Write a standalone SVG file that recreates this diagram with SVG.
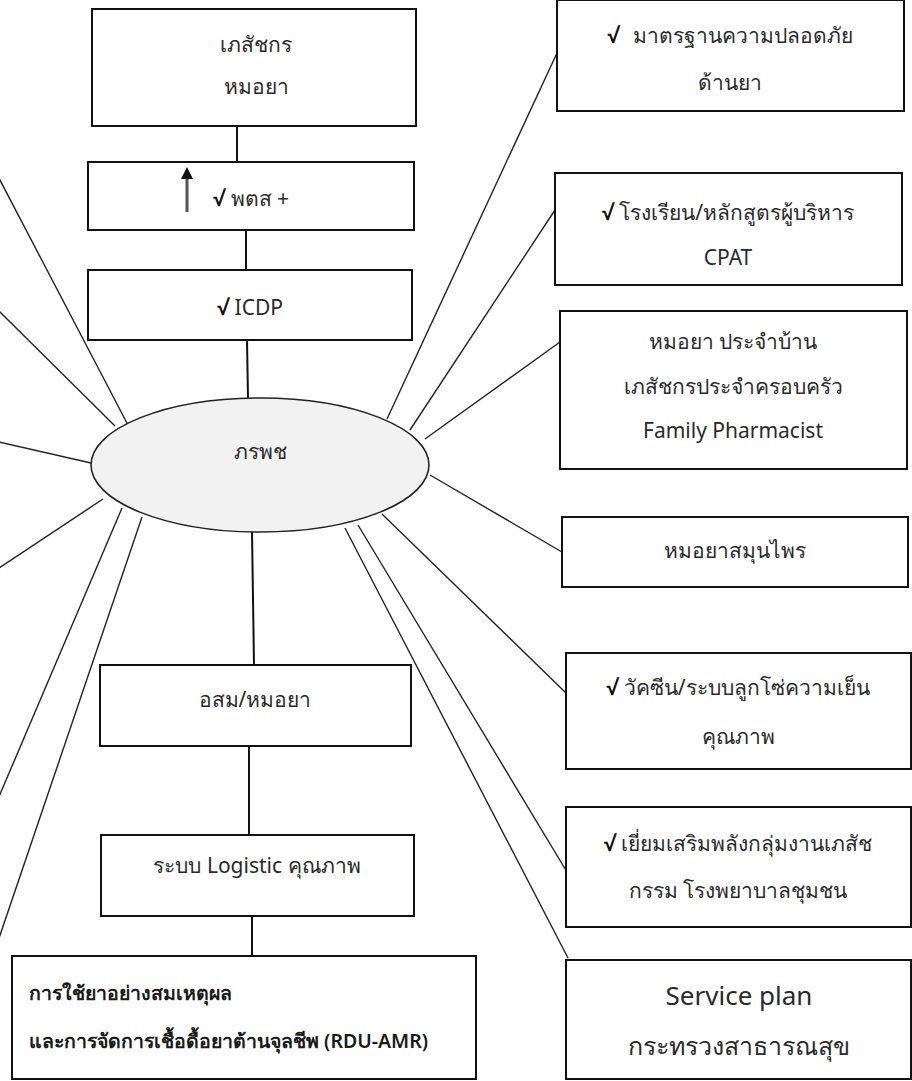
<svg xmlns="http://www.w3.org/2000/svg" width="912" height="1081" viewBox="0 0 912 1081">
<style>
.box{fill:#fff;stroke:#111;stroke-width:2}
.ln{stroke:#222;stroke-width:1.4;fill:none}
.vl{stroke:#111;stroke-width:2;fill:none}
.t{font-family:"Noto Sans","Open Sans",sans-serif;font-size:21px;fill:#2a2a2a;text-anchor:middle;dominant-baseline:central}
.ck{font-weight:bold;fill:#111}
.rdu{font-family:"Noto Sans","Open Sans",sans-serif;font-size:19.5px;font-weight:600;fill:#1a1a1a;dominant-baseline:central}
</style>
<rect width="912" height="1081" fill="#fff"/>
<g id="connectors">
<line class="vl" x1="237" y1="126" x2="237" y2="162"/>
<line class="vl" x1="246" y1="230" x2="246" y2="270"/>
<line class="vl" x1="247" y1="340" x2="248" y2="398"/>
<line class="vl" x1="252" y1="532" x2="254" y2="665"/>
<line class="vl" x1="249" y1="746" x2="249" y2="835"/>
<line class="vl" x1="252" y1="916" x2="252" y2="956"/>
<line class="ln" x1="-10" y1="161" x2="128" y2="425"/>
<line class="ln" x1="-10" y1="302" x2="115" y2="426"/>
<line class="ln" x1="-10" y1="440" x2="91" y2="463"/>
<line class="ln" x1="-10" y1="574" x2="103" y2="499"/>
<line class="ln" x1="122" y1="508" x2="-5" y2="806"/>
<line class="ln" x1="142" y1="517" x2="-5" y2="950"/>
<line class="ln" x1="387" y1="419" x2="557" y2="53"/>
<line class="ln" x1="410" y1="430" x2="555" y2="210"/>
<line class="ln" x1="425" y1="439" x2="560" y2="342"/>
<line class="ln" x1="430" y1="475" x2="562" y2="552"/>
<line class="ln" x1="382" y1="514" x2="566" y2="693"/>
<line class="ln" x1="358" y1="525" x2="567" y2="872"/>
<line class="ln" x1="345" y1="528" x2="568" y2="958"/>
</g>
<g id="n-pharmacist">
<rect class="box" x="92" y="9" width="324" height="117"/>
<text class="t" x="256" y="44">เภสัชกร</text>
<text class="t" x="256" y="86">หมอยา</text>
</g>
<g id="n-ptsx">
<rect class="box" x="88" y="162" width="326" height="68"/>
<line x1="187" y1="212" x2="187" y2="176" stroke="#555" stroke-width="3"/>
<polygon points="187,167 181,179 193,179" fill="#111"/>
<text class="t" x="251" y="198"><tspan class="ck">√</tspan><tspan dx="6">พตส +</tspan></text>
</g>
<g id="n-icdp">
<rect class="box" x="88" y="270" width="324" height="70"/>
<text class="t" x="250" y="307"><tspan class="ck">√</tspan><tspan dx="6">ICDP</tspan></text>
</g>
<g id="n-center">
<ellipse cx="260" cy="465" rx="169" ry="67" fill="#f2f2f2" stroke="#222" stroke-width="1.6"/>
<text class="t" x="260" y="451">ภรพช</text>
</g>
<g id="n-osm">
<rect class="box" x="100" y="665" width="311" height="81"/>
<text class="t" x="255" y="699">อสม/หมอยา</text>
</g>
<g id="n-logistic">
<rect class="box" x="101" y="835" width="313" height="81"/>
<text class="t" x="257" y="865">ระบบ Logistic คุณภาพ</text>
</g>
<g id="n-rdu">
<rect class="box" x="12" y="956" width="464" height="123"/>
<text class="rdu" x="29" y="992">การใช้ยาอย่างสมเหตุผล</text>
<text class="rdu" x="29" y="1040">และการจัดการเชื้อดื้อยาต้านจุลชีพ (RDU-AMR)</text>
</g>
<g id="n-r1">
<rect class="box" x="557" y="0" width="347" height="111"/>
<text class="t" x="730" y="35"><tspan class="ck">√</tspan><tspan dx="14">มาตรฐานความปลอดภัย</tspan></text>
<text class="t" x="730" y="82">ด้านยา</text>
</g>
<g id="n-r2">
<rect class="box" x="555" y="173" width="347" height="112"/>
<text class="t" x="728" y="212"><tspan class="ck">√</tspan><tspan dx="6">โรงเรียน/หลักสูตรผู้บริหาร</tspan></text>
<text class="t" x="728" y="257">CPAT</text>
</g>
<g id="n-r3">
<rect class="box" x="560" y="311" width="347" height="158"/>
<text class="t" x="733" y="341">หมอยา ประจำบ้าน</text>
<text class="t" x="733" y="386">เภสัชกรประจำครอบครัว</text>
<text class="t" x="733" y="430">Family Pharmacist</text>
</g>
<g id="n-r4">
<rect class="box" x="562" y="517" width="346" height="70"/>
<text class="t" x="735" y="550">หมอยาสมุนไพร</text>
</g>
<g id="n-r5">
<rect class="box" x="566" y="653" width="345" height="116"/>
<text class="t" x="738" y="687"><tspan class="ck">√</tspan><tspan dx="6">วัคซีน/ระบบลูกโซ่ความเย็น</tspan></text>
<text class="t" x="738" y="736">คุณภาพ</text>
</g>
<g id="n-r6">
<rect class="box" x="566" y="807" width="345" height="120"/>
<text class="t" x="738" y="843"><tspan class="ck">√</tspan><tspan dx="6">เยี่ยมเสริมพลังกลุ่มงานเภสัช</tspan></text>
<text class="t" x="738" y="890">กรรม โรงพยาบาลชุมชน</text>
</g>
<g id="n-r7">
<rect class="box" x="566" y="960" width="345" height="119"/>
<text class="t" x="739" y="995" style="font-size:26px">Service plan</text>
<text class="t" x="739" y="1045" style="font-size:25px">กระทรวงสาธารณสุข</text>
</g>
</svg>
